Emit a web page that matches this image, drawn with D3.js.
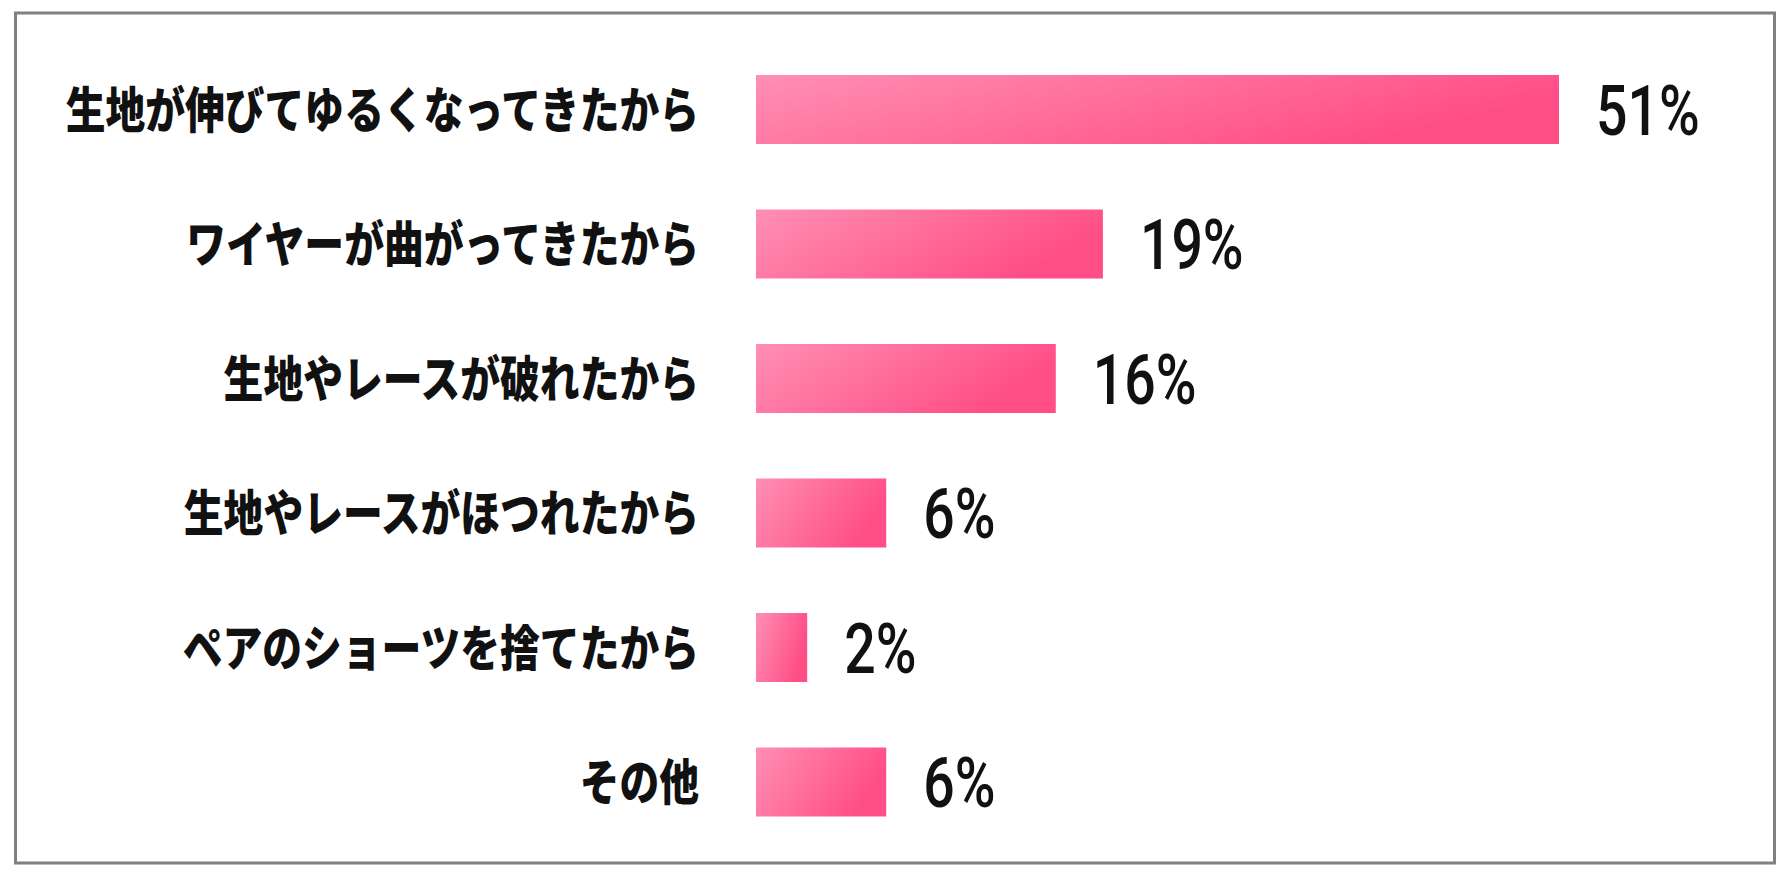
<!DOCTYPE html>
<html>
<head>
<meta charset="utf-8">
<title>bar chart</title>
<script src="https://cdn.jsdelivr.net/npm/d3@7/dist/d3.min.js"></script>
<style>
  *{ margin:0; padding:0; }
  body{ background:#fff; }
</style>
</head>
<body>
<div id="show"></div>
<script>
  // data
  var categories = [
    "生地が伸びてゆるくなってきたから",
    "ワイヤーが曲がってきたから",
    "生地やレースが破れたから",
    "生地やレースがほつれたから",
    "ペアのショーツを捨てたから",
    "その他"
  ];
  var values = [51, 19, 16, 6, 2, 6];
  var valueLabels = ["51%", "19%", "16%", "6%", "2%", "6%"];

  var W = 1790, H = 878;
  var barX0 = 756;

  var svg = d3.select("#show").append("svg")
              .attr("width", W)
              .attr("height", H);

  var defs = svg.append("defs");
  var grad = defs.append("linearGradient")
                 .attr("id", "barGrad")
                 .attr("x1", 0).attr("y1", 0)
                 .attr("x2", 1).attr("y2", 0.35);
  grad.append("stop").attr("offset", "0%").attr("stop-color", "#ff8fb4");
  grad.append("stop").attr("offset", "100%").attr("stop-color", "#ff4d86");

  // frame
  svg.append("rect")
     .attr("x", 15.5).attr("y", 13)
     .attr("width", 1759).attr("height", 850)
     .attr("fill", "#fff")
     .attr("stroke", "#808080")
     .attr("stroke-width", 3);

  var y = d3.scaleBand()
            .domain(categories)
            .range([42.25, 849.25])
            .paddingInner(0.487)
            .paddingOuter(0.2435);

  // bar lengths in the original are not strictly linear, a mild power scale fits them
  var x = d3.scalePow().exponent(0.85)
            .domain([0, 51])
            .range([0, 803]);

  var rows = svg.append("g").selectAll("g.row")
                .data(categories)
                .enter().append("g")
                .attr("class", "row");

  rows.append("rect")
      .attr("x", barX0)
      .attr("y", function(d){ return y(d); })
      .attr("width", function(d, i){ return x(values[i]); })
      .attr("height", y.bandwidth())
      .attr("fill", "url(#barGrad)");

  rows.append("text")
      .attr("transform", function(d){
        return "translate(699," + (y(d) + y.bandwidth()/2 - 3) + ") scale(0.812,1)";
      })
      .attr("text-anchor", "end")
      .attr("dominant-baseline", "central")
      .style("font-family", "'Noto Sans CJK JP', 'Noto Sans CJK SC', sans-serif")
      .style("font-weight", 900)
      .style("font-size", "49px")
      .style("fill", "#111")
      .text(function(d){ return d; });

  rows.append("text")
      .attr("transform", function(d, i){
        return "translate(" + (barX0 + x(values[i]) + 37) + "," + (y(d) + y.bandwidth()/2 + 25) + ") scale(0.78,1)";
      })
      .attr("text-anchor", "start")
      .style("font-family", "Roboto, 'Liberation Sans', sans-serif")
      .style("font-weight", 500)
      .style("font-size", "71px")
      .style("fill", "#111")
      .text(function(d, i){ return valueLabels[i]; });
</script>
</body>
</html>
